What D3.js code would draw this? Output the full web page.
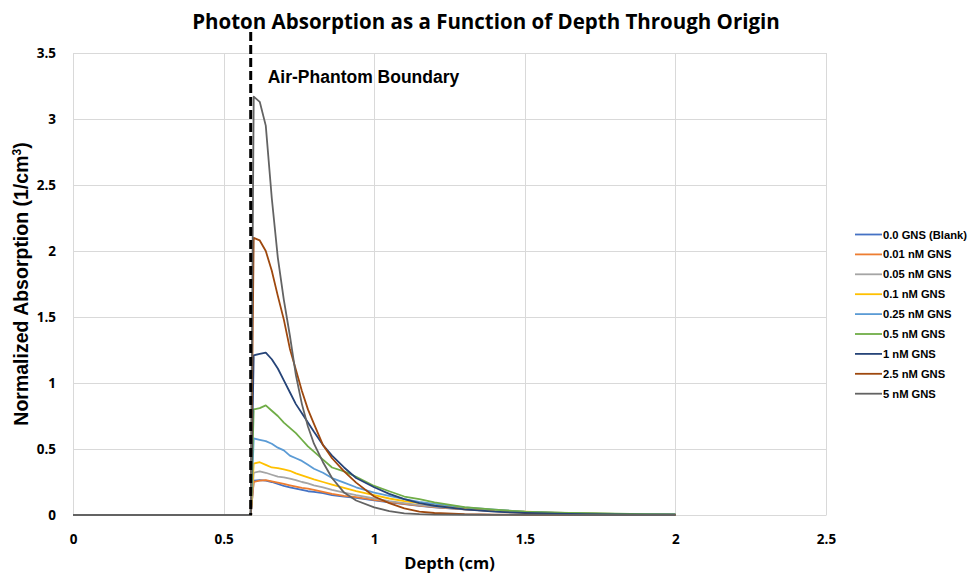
<!DOCTYPE html>
<html>
<head>
<meta charset="utf-8">
<script src="https://cdn.jsdelivr.net/npm/d3@7"></script>
<style>
  html, body { margin: 0; padding: 0; background: #fff; }
  svg { display: block; }
</style>
</head>
<body>
<svg id="chart" width="973" height="578"></svg>
<script>
// ---- Data ----
const depth = [0, 0.59, 0.6, 0.62, 0.64, 0.66, 0.68, 0.70, 0.72, 0.74, 0.76, 0.78, 0.80, 0.83, 0.86, 0.90, 0.94, 1.00, 1.05, 1.10, 1.15, 1.20, 1.30, 1.40, 1.50, 1.60, 1.70, 1.80, 1.90, 2.00];

const blank   = [0, 0, 0.26, 0.265, 0.26, 0.25, 0.235, 0.22, 0.21, 0.20, 0.19, 0.18, 0.175, 0.165, 0.15, 0.14, 0.13, 0.11, 0.095, 0.082, 0.07, 0.058, 0.042, 0.029, 0.02, 0.014, 0.009, 0.006, 0.004, 0.002];
const gns001  = [0, 0, 0.25, 0.26, 0.265, 0.255, 0.245, 0.235, 0.225, 0.215, 0.205, 0.20, 0.19, 0.175, 0.16, 0.145, 0.135, 0.115, 0.10, 0.085, 0.072, 0.06, 0.043, 0.03, 0.021, 0.014, 0.01, 0.007, 0.004, 0.003];
const gns005  = [0, 0, 0.32, 0.33, 0.32, 0.305, 0.29, 0.285, 0.275, 0.265, 0.25, 0.24, 0.225, 0.21, 0.19, 0.17, 0.15, 0.125, 0.105, 0.09, 0.075, 0.063, 0.045, 0.031, 0.022, 0.015, 0.01, 0.007, 0.005, 0.003];
const gns01   = [0, 0, 0.39, 0.40, 0.38, 0.36, 0.355, 0.345, 0.335, 0.315, 0.30, 0.285, 0.27, 0.25, 0.23, 0.205, 0.18, 0.15, 0.125, 0.105, 0.09, 0.075, 0.052, 0.036, 0.025, 0.017, 0.012, 0.008, 0.005, 0.003];
const gns025  = [0, 0, 0.58, 0.57, 0.56, 0.54, 0.51, 0.49, 0.45, 0.43, 0.41, 0.38, 0.35, 0.32, 0.28, 0.245, 0.21, 0.17, 0.145, 0.12, 0.10, 0.085, 0.058, 0.04, 0.026, 0.018, 0.013, 0.009, 0.006, 0.004];
const gns05   = [0, 0, 0.80, 0.81, 0.83, 0.79, 0.75, 0.70, 0.66, 0.62, 0.57, 0.52, 0.48, 0.42, 0.36, 0.33, 0.29, 0.22, 0.18, 0.14, 0.12, 0.095, 0.06, 0.04, 0.025, 0.018, 0.014, 0.01, 0.007, 0.005];
const gns1    = [0, 0, 1.21, 1.22, 1.23, 1.18, 1.11, 1.02, 0.93, 0.84, 0.77, 0.70, 0.63, 0.53, 0.45, 0.36, 0.28, 0.21, 0.16, 0.12, 0.09, 0.07, 0.043, 0.025, 0.015, 0.01, 0.007, 0.005, 0.003, 0.002];
const gns25   = [0, 0, 2.10, 2.08, 2.00, 1.85, 1.66, 1.48, 1.26, 1.10, 0.94, 0.80, 0.69, 0.53, 0.43, 0.33, 0.245, 0.14, 0.09, 0.05, 0.025, 0.015, 0.006, 0.003, 0.002, 0.001, 0.001, 0, 0, 0];
const gns5    = [0, 0, 3.17, 3.13, 2.95, 2.40, 1.95, 1.63, 1.36, 1.06, 0.84, 0.67, 0.54, 0.40, 0.28, 0.17, 0.11, 0.058, 0.03, 0.013, 0.006, 0.003, 0.002, 0.001, 0.001, 0.001, 0, 0, 0, 0];

const seriesNames  = ["0.0 GNS (Blank)", "0.01 nM GNS", "0.05 nM GNS", "0.1 nM GNS", "0.25 nM GNS", "0.5 nM GNS", "1 nM GNS", "2.5 nM GNS", "5 nM GNS"];
const seriesValues = [blank, gns001, gns005, gns01, gns025, gns05, gns1, gns25, gns5];
const seriesColors = ["#4472c4", "#ed7d31", "#a5a5a5", "#ffc000", "#5b9bd5", "#70ad47", "#264478", "#9e480e", "#636363"];

const xTicks = [0, 0.5, 1, 1.5, 2, 2.5];
const yTicks = [0, 0.5, 1, 1.5, 2, 2.5, 3, 3.5];
const boundaryDepth = 0.59;
const boundaryTop = 3.66;

const titleText = "Photon Absorption as a Function of Depth Through Origin";
const xTitle = "Depth (cm)";
const boundaryLabel = "Air-Phantom Boundary";

// ---- Layout ----
const svg = d3.select("#chart");
const plot = { left: 73, right: 826, top: 53, bottom: 515 };

const x = d3.scaleLinear().domain([0, 2.5]).range([plot.left, plot.right]);
const y = d3.scaleLinear().domain([0, 3.5]).range([plot.bottom, plot.top]);

const labelFont = "'Open Sans', 'Liberation Sans', sans-serif";
const arialFont = "'Liberation Sans', Arial, sans-serif";

// Gridlines
const grid = svg.append("g");
grid.selectAll("line.h").data(yTicks).join("line")
  .attr("x1", plot.left).attr("x2", plot.right)
  .attr("y1", d => Math.round(y(d)) + 0.5).attr("y2", d => Math.round(y(d)) + 0.5)
  .attr("stroke", "#d9d9d9").attr("stroke-width", 1);
grid.selectAll("line.v").data(xTicks).join("line")
  .attr("y1", plot.top).attr("y2", plot.bottom)
  .attr("x1", d => Math.round(x(d)) + 0.5).attr("x2", d => Math.round(x(d)) + 0.5)
  .attr("stroke", "#d9d9d9").attr("stroke-width", 1);

// Axes (labels only)
const xAxis = svg.append("g").attr("transform", `translate(0,${plot.bottom})`)
  .call(d3.axisBottom(x).tickValues(xTicks).tickSize(0).tickPadding(19).tickFormat(d3.format("")));
xAxis.select(".domain").attr("stroke", "#d9d9d9");
xAxis.selectAll("text").attr("font-family", labelFont).attr("font-weight", "bold")
  .attr("font-size", 13.5).attr("fill", "#000");

const yAxis = svg.append("g").attr("transform", `translate(${plot.left},0)`)
  .call(d3.axisLeft(y).tickValues(yTicks).tickSize(0).tickPadding(17).tickFormat(d3.format("")));
yAxis.select(".domain").remove();
yAxis.selectAll("text").attr("font-family", labelFont).attr("font-weight", "bold")
  .attr("font-size", 13.5).attr("fill", "#000");

// Series lines
const line = d3.line().x((d, i) => x(depth[i])).y(d => y(d));
svg.append("g").selectAll("path").data(seriesValues).join("path")
  .attr("d", d => line(d))
  .attr("fill", "none")
  .attr("stroke", (d, i) => seriesColors[i])
  .attr("stroke-width", 1.8)
  .attr("stroke-linejoin", "round");

// Boundary dashed line
svg.append("line")
  .attr("x1", x(boundaryDepth)).attr("x2", x(boundaryDepth))
  .attr("y1", y(boundaryTop)).attr("y2", y(0))
  .attr("stroke", "#000").attr("stroke-width", 3)
  .attr("stroke-dasharray", "9,4");

svg.append("text")
  .attr("x", x(boundaryDepth) + 17).attr("y", 83)
  .attr("font-family", arialFont).attr("font-weight", "bold").attr("font-size", 17.5)
  .attr("fill", "#000").text(boundaryLabel);

// Title
svg.append("text")
  .attr("x", 486).attr("y", 29).attr("text-anchor", "middle")
  .attr("font-family", labelFont).attr("font-weight", "bold").attr("font-size", 20.5)
  .attr("fill", "#000").text(titleText);

// X title
svg.append("text")
  .attr("x", (plot.left + plot.right) / 2).attr("y", 569).attr("text-anchor", "middle")
  .attr("font-family", labelFont).attr("font-weight", "bold").attr("font-size", 16.5)
  .attr("fill", "#000").text(xTitle);

// Y title
const yt = svg.append("text")
  .attr("transform", `translate(28,${(plot.top + plot.bottom) / 2}) rotate(-90)`)
  .attr("text-anchor", "middle")
  .attr("font-family", arialFont).attr("font-weight", "bold").attr("font-size", 19.5)
  .attr("fill", "#000");
yt.append("tspan").text("Normalized Absorption (1/cm");
yt.append("tspan").attr("font-size", 12).attr("dy", -7).text("3");
yt.append("tspan").attr("dy", 7).text(")");

// Legend
const legend = svg.append("g").attr("transform", "translate(855,234.5)");
const li = legend.selectAll("g").data(seriesNames).join("g")
  .attr("transform", (d, i) => `translate(0,${i * 19.9})`);
li.append("line").attr("x1", 0).attr("x2", 27).attr("y1", 0).attr("y2", 0)
  .attr("stroke", (d, i) => seriesColors[i]).attr("stroke-width", 1.8);
li.append("text").attr("x", 28).attr("y", 4)
  .attr("font-family", arialFont).attr("font-weight", "bold").attr("font-size", 11.2)
  .attr("fill", "#000").text(d => d);
</script>
</body>
</html>
